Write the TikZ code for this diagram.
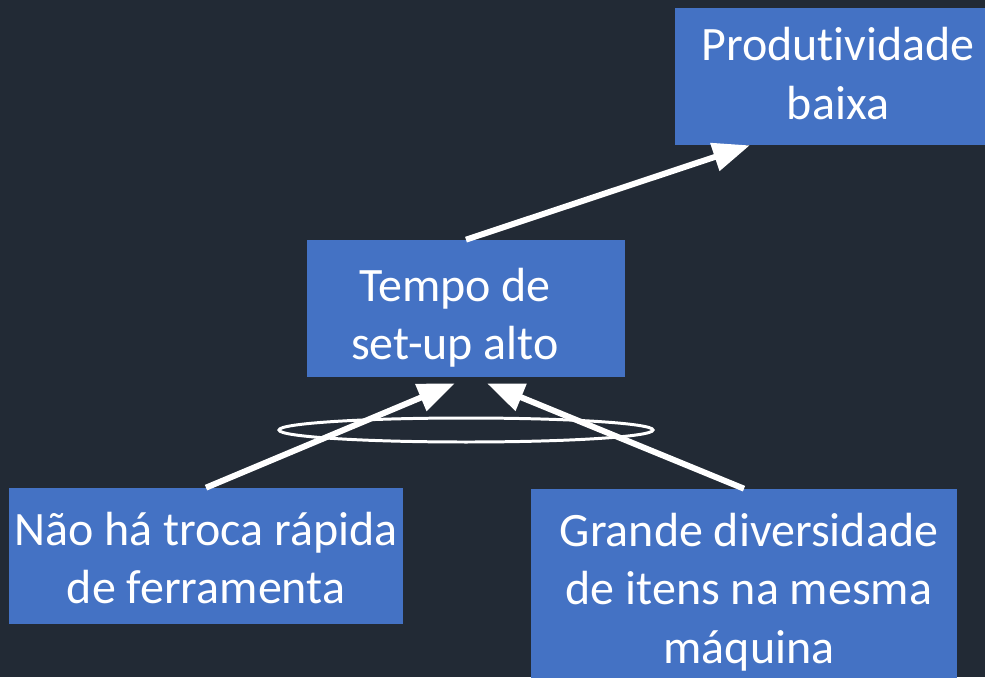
\documentclass[tikz,border=0pt]{standalone}
\usepackage{fontspec}
\setmainfont{Carlito}[Ligatures={NoCommon,NoContextual}]
\usetikzlibrary{arrows.meta,calc}
\definecolor{fundo}{HTML}{222A35}
\definecolor{azul}{HTML}{4472C4}

\begin{document}
\begin{tikzpicture}[x=0.02cm,y=-0.02cm,
  caixa/.style={fill=azul, inner sep=0pt},
  texto/.style={text=white, align=center, inner sep=0pt, font=\fontsize{27.3}{33.2}\selectfont},
  seta/.style={white, line width=3.4pt, -{Triangle[length=21pt,width=16pt]}}]
\fill[fundo] (0,0) rectangle (985,677);
\useasboundingbox (0,0) rectangle (985,677);
\clip (0,0) rectangle (985,677);
% caixas
\node[caixa, minimum width=6.52cm, minimum height=2.74cm] (prod) at (838,76.5) {};
\node[caixa, minimum width=6.36cm, minimum height=2.74cm] (tempo) at (466,308.5) {};
\node[caixa, minimum width=7.88cm, minimum height=2.72cm] (nao) at (206,556) {};
\node[caixa, minimum width=8.52cm, minimum height=4.18cm] (grande) at (744,593.5) {};
% textos
\node[texto] (prodtxt) at (838,73.5) {Produt\kern0pt ividade\\baixa};
\node[texto] (tempotxt) at (455,318) {Tempo de\\set-up alto};
\node[texto] (naotxt) at (206,558) {Não há troca rápida\\de ferramenta};
\node[texto] (grandetxt) at (749,592) {Grande diversidade\\de itens na mesma\\máquina};
% setas
\draw[seta] (tempo.north) -- ($(prod.south west)!0.23!(prod.south east)$);
\draw[seta] (nao.north) -- ($(tempo.south west)!0.465!(tempo.south east)+(0,6)$);
\draw[seta] (grande.north) -- ($(tempo.south west)!0.566!(tempo.south east)+(0,6)$);
\draw[white, line width=1.7pt] (466,430) ellipse [x radius=187, y radius=12];
\end{tikzpicture}
\end{document}
